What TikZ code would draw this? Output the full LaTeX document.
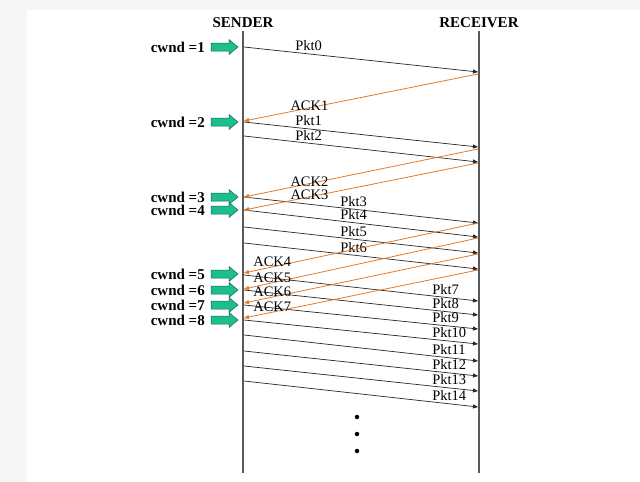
\documentclass[tikz,border=0pt]{standalone}
\usepackage{fontspec}
\setmainfont{Liberation Serif}
\usetikzlibrary{arrows.meta}
\definecolor{bggray}{RGB}{247,247,247}
\definecolor{ackor}{RGB}{226,122,42}
\definecolor{cwgreen}{RGB}{28,190,142}
\definecolor{cwedge}{RGB}{20,105,85}
\begin{document}
\begin{tikzpicture}[x=1pt,y=-1pt,
  hdr/.style={font=\fontsize{15}{18}\selectfont\bfseries, inner sep=0pt},
  cwlbl/.style={font=\fontsize{15}{18}\selectfont\bfseries, anchor=base east, inner sep=0pt},
  life/.style={draw=black!65, line width=1.3pt},
  pkt/.style={draw=black!85, line width=0.7pt, -{Triangle[length=5pt,width=4pt]}},
  ack/.style={draw=ackor, line width=0.8pt, -{Triangle[length=5pt,width=4pt]}},
  lbl/.style={font=\fontsize{14.5}{16}\selectfont, anchor=base west, inner sep=0pt, yshift=1.5pt},
  albl/.style={font=\fontsize{14.5}{16}\selectfont, anchor=base west, inner sep=0pt, yshift=5pt},
  dotn/.style={circle, fill=black, inner sep=0pt, minimum size=4.5pt},
  cwarr/.pic={\draw[fill=cwgreen, draw=cwedge, line width=0.5pt]
      (-13,-4) -- (5,-4) -- (5,-7.5) -- (14,0) -- (5,7.5) -- (5,4) -- (-13,4) -- cycle;}
]
% background
\fill[bggray] (0,0) rectangle (640,482);
\fill[white] (27,10) rectangle (640,482);
\useasboundingbox (0,0) rectangle (640,482);

% headers and lifelines
\node[hdr] (snd) at (243,23) {SENDER};
\node[hdr] (rcv) at (479,23) {RECEIVER};
\coordinate (sTop) at (243,31); \coordinate (sBot) at (243,473);
\coordinate (rTop) at (479,31); \coordinate (rBot) at (479,473);
\draw[life] (sTop) -- (sBot);
\draw[life] (rTop) -- (rBot);

% cwnd labels and green arrows
\foreach \n/\y in {1/47,2/122,3/197,4/210,5/274,6/290,7/305,8/320}{
  \node[cwlbl] (cw\n) at (205,\y+5) {cwnd =\n};
  \pic (ga\n) at (224,\y) {cwarr};
}

% packets
\foreach \n/\a/\b/\p in {0/47/72/0.218, 1/122/147/0.218, 2/136/162/0.218,
   3/197/223/0.41, 4/210/237/0.41, 5/227/253/0.41, 6/243/269/0.41,
   7/275/301/0.803, 8/290/315/0.803, 9/305/329/0.803, 10/320/344/0.803,
   11/335/361/0.803, 12/351/376/0.803, 13/366/391/0.803, 14/381/407/0.803}{
  \coordinate (ps\n) at (244,\a);
  \coordinate (pr\n) at (478,\b);
  \draw[pkt] (ps\n) -- node[lbl, pos=\p] (pl\n) {Pkt\n} (pr\n);
}

% acks
\foreach \n/\a/\b/\p/\st in {1/74/121/0.803/lbl, 2/149/197/0.803/lbl, 3/163/210/0.803/lbl,
   4/223/273/0.962/albl, 5/238/289/0.962/albl, 6/254/303/0.962/albl, 7/270/318/0.962/albl}{
  \coordinate (ar\n) at (478,\a);
  \coordinate (as\n) at (244,\b);
  \draw[ack] (ar\n) -- node[\st, pos=\p] (al\n) {ACK\n} (as\n);
}

% continuation dots
\node[dotn] (d1) at (357,417) {};
\node[dotn] (d2) at (357,434) {};
\node[dotn] (d3) at (357,451) {};
\end{tikzpicture}
\end{document}
